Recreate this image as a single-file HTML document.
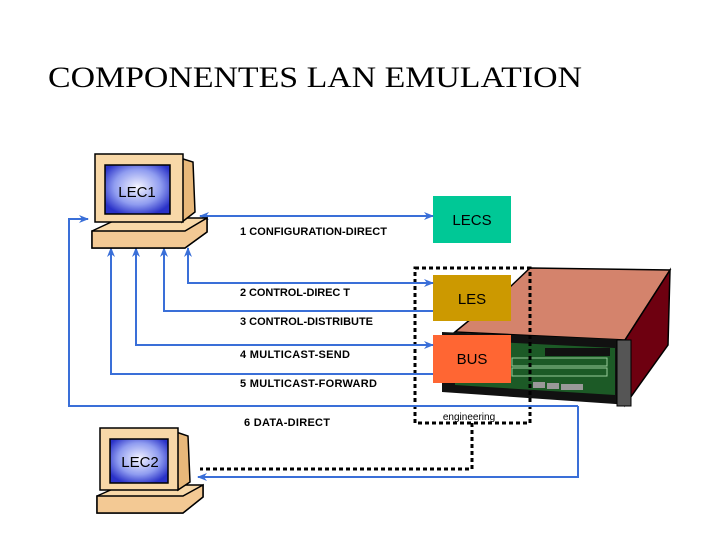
<!DOCTYPE html>
<html><head><meta charset="utf-8"><style>
body{margin:0;background:#fff;}
svg{display:block}
text{font-family:"Liberation Sans",Arial,sans-serif;}
</style></head><body>
<svg width="720" height="540" viewBox="0 0 720 540" xmlns="http://www.w3.org/2000/svg">
<defs>
<marker id="a" markerWidth="10" markerHeight="8" refX="9" refY="4" orient="auto-start-reverse" markerUnits="userSpaceOnUse">
<path d="M0,0 L10,4 L0,8 L3,4 Z" fill="#3a6fd8"/></marker>
<radialGradient id="scr" cx="50%" cy="45%" r="60%"><stop offset="0" stop-color="#f4f4ff"/><stop offset="0.6" stop-color="#8f9cf0"/><stop offset="1" stop-color="#2a32c8"/></radialGradient>
</defs>
<text x="48" y="87" font-size="30" textLength="534" lengthAdjust="spacingAndGlyphs" style="font-family:'Liberation Serif',serif">COMPONENTES LAN EMULATION</text>

<!-- server -->
<polygon points="510,287 530,268 670,270 625,340 455,332" fill="#d4836c" stroke="#000" stroke-width="1.5"/>
<polygon points="670,270 668,345 625,405 625,340" fill="#6e0010" stroke="#000" stroke-width="1.5"/>
<polygon points="442,332 630,340 630,405 442,392" fill="#111"/>
<polygon points="455,340 615,348 615,395 455,385" fill="#1c5a26"/>
<rect x="545" y="348" width="65" height="8" fill="#111"/>
<g fill="none" stroke="#9c9" stroke-width="1"><rect x="512" y="358" width="95" height="8"/><rect x="512" y="368" width="95" height="8"/></g>
<g fill="#999"><rect x="533" y="382" width="12" height="6"/><rect x="547" y="383" width="12" height="6"/><rect x="561" y="384" width="22" height="6"/></g>
<rect x="617" y="340" width="14" height="66" fill="#555" stroke="#000"/>

<!-- boxes -->
<rect x="433" y="196" width="78" height="47" fill="#00c896"/>
<text x="472" y="225" font-size="15" text-anchor="middle">LECS</text>
<rect x="433" y="275" width="78" height="46" fill="#cc9900"/>
<text x="472" y="304" font-size="15" text-anchor="middle">LES</text>
<rect x="433" y="335" width="78" height="48" fill="#ff6633"/>
<text x="472" y="364" font-size="15" text-anchor="middle">BUS</text>

<!-- dotted box -->
<rect x="415" y="268" width="115" height="155" fill="none" stroke="#000" stroke-width="3" stroke-dasharray="4,3"/>
<text x="469" y="420" font-size="10" text-anchor="middle">engineering</text>
<polyline points="472,423 472,469 200,469" fill="none" stroke="#000" stroke-width="3" stroke-dasharray="4,3"/>

<!-- blue lines -->
<g fill="none" stroke="#3a6fd8" stroke-width="2">
<line x1="433" y1="216" x2="200" y2="216" marker-start="url(#a)" marker-end="url(#a)"/>
<polyline points="433,283 188,283 188,248" marker-start="url(#a)" marker-end="url(#a)"/>
<polyline points="433,311 164,311 164,248" marker-end="url(#a)"/>
<polyline points="433,345 136,345 136,248" marker-start="url(#a)" marker-end="url(#a)"/>
<polyline points="433,374 111,374 111,248" marker-end="url(#a)"/>
<polyline points="578,406 69,406 69,219 88,219" marker-end="url(#a)"/>
<polyline points="578,406 578,477 198,477" marker-end="url(#a)"/>
</g>

<g font-size="11" font-weight="bold" lengthAdjust="spacingAndGlyphs">
<text x="240" y="235" textLength="147">1 CONFIGURATION-DIRECT</text>
<text x="240" y="296" textLength="110">2 CONTROL-DIREC T</text>
<text x="240" y="325" textLength="133">3 CONTROL-DISTRIBUTE</text>
<text x="240" y="358" textLength="110">4  MULTICAST-SEND</text>
<text x="240" y="387" textLength="137">5  MULTICAST-FORWARD</text>
<text x="244" y="426" textLength="86">6  DATA-DIRECT</text>
</g>

<!-- LEC1 -->
<g stroke="#000" stroke-width="1.5">
<polygon points="92,231 120,218 207,218 207,232 185,248 92,248" fill="#f8d8a8"/>
<polygon points="92,231 185,231 207,218 207,232 185,248 92,248" fill="#f3c994"/>
<polygon points="180,158 193,162 195,212 182,222" fill="#e8b87a"/>
<rect x="95" y="154" width="88" height="68" fill="#f8d8a8"/>
<rect x="105" y="165" width="65" height="49" fill="url(#scr)"/>
</g>
<text x="137" y="197" font-size="15" text-anchor="middle">LEC1</text>

<!-- LEC2 -->
<g stroke="#000" stroke-width="1.5">
<polygon points="97,496 122,485 203,485 203,497 183,513 97,513" fill="#f8d8a8"/>
<polygon points="97,496 183,496 203,485 203,497 183,513 97,513" fill="#f3c994"/>
<polygon points="176,432 188,436 190,482 178,490" fill="#e8b87a"/>
<rect x="100" y="428" width="78" height="62" fill="#f8d8a8"/>
<rect x="110" y="439" width="58" height="44" fill="url(#scr)"/>
</g>
<text x="140" y="467" font-size="15" text-anchor="middle">LEC2</text>
</svg>
</body></html>
